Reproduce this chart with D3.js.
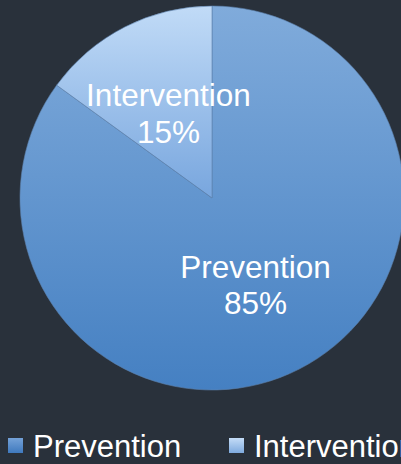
<!DOCTYPE html>
<html>
<head>
<meta charset="utf-8">
<script src="https://cdn.jsdelivr.net/npm/d3@7"></script>
<style>
html,body{margin:0;padding:0;background:#29313b;}
svg{display:block;}
</style>
</head>
<body>
<svg id="chart" width="401" height="464"></svg>
<script>
const categories = ["Prevention", "Intervention"];
const values = [85, 15];
const percentLabels = ["85%", "15%"];

const W = 401, H = 464;
const cx = 212, cy = 198, R = 192;
const font = "'Liberation Sans', Arial, sans-serif";

const svg = d3.select("#chart");
svg.append("rect").attr("width", W).attr("height", H).attr("fill", "#29313b");

const defs = svg.append("defs");
const grads = [
  {id: "gPrev", top: "#80abdb", bottom: "#4580c2"},
  {id: "gInt", top: "#c1dbf7", bottom: "#78a6de"},
  {id: "lPrev", top: "#74a2d8", bottom: "#3f79be"},
  {id: "lInt", top: "#c4dcf7", bottom: "#7eaade"}
];
grads.forEach(g => {
  const lg = defs.append("linearGradient").attr("id", g.id)
    .attr("x1", 0).attr("y1", 0).attr("x2", 0).attr("y2", 1);
  lg.append("stop").attr("offset", "0%").attr("stop-color", g.top);
  lg.append("stop").attr("offset", "100%").attr("stop-color", g.bottom);
});
const fills = ["url(#gPrev)", "url(#gInt)"];
const legendFills = ["url(#lPrev)", "url(#lInt)"];

const data = categories.map((c, i) => ({name: c, value: values[i], pct: percentLabels[i]}));

const pie = d3.pie().sort(null).value(d => d.value).startAngle(0).endAngle(2 * Math.PI);
const arc = d3.arc().innerRadius(0).outerRadius(R);

const g = svg.append("g").attr("transform", `translate(${cx},${cy})`);
const arcs = pie(data);

g.selectAll("path.slice").data(arcs).enter().append("path")
  .attr("class", "slice")
  .attr("d", arc)
  .attr("fill", (d, i) => fills[i])
  .attr("stroke", "#5d82ad")
  .attr("stroke-width", 0.6);

const labels = g.selectAll("g.lbl").data(arcs).enter().append("g")
  .attr("class", "lbl")
  .attr("transform", d => { const c = arc.centroid(d); return `translate(${c[0]},${c[1]})`; });
labels.append("text")
  .attr("text-anchor", "middle").attr("y", -6)
  .attr("font-family", font).attr("font-size", 31.5).attr("fill", "#ffffff")
  .text(d => d.data.name);
labels.append("text")
  .attr("text-anchor", "middle").attr("y", 30.5)
  .attr("font-family", font).attr("font-size", 31.5).attr("fill", "#ffffff")
  .text(d => d.data.pct);

// legend
const legendX = [8, 229];
const leg = svg.selectAll("g.leg").data(data).enter().append("g")
  .attr("class", "leg")
  .attr("transform", (d, i) => `translate(${legendX[i]},438)`);
leg.append("rect").attr("width", 15).attr("height", 15)
  .attr("fill", (d, i) => legendFills[i]);
leg.append("text").attr("x", 25).attr("y", 18.5)
  .attr("font-family", font).attr("font-size", 31).attr("fill", "#ffffff")
  .text(d => d.name);
</script>
</body>
</html>
